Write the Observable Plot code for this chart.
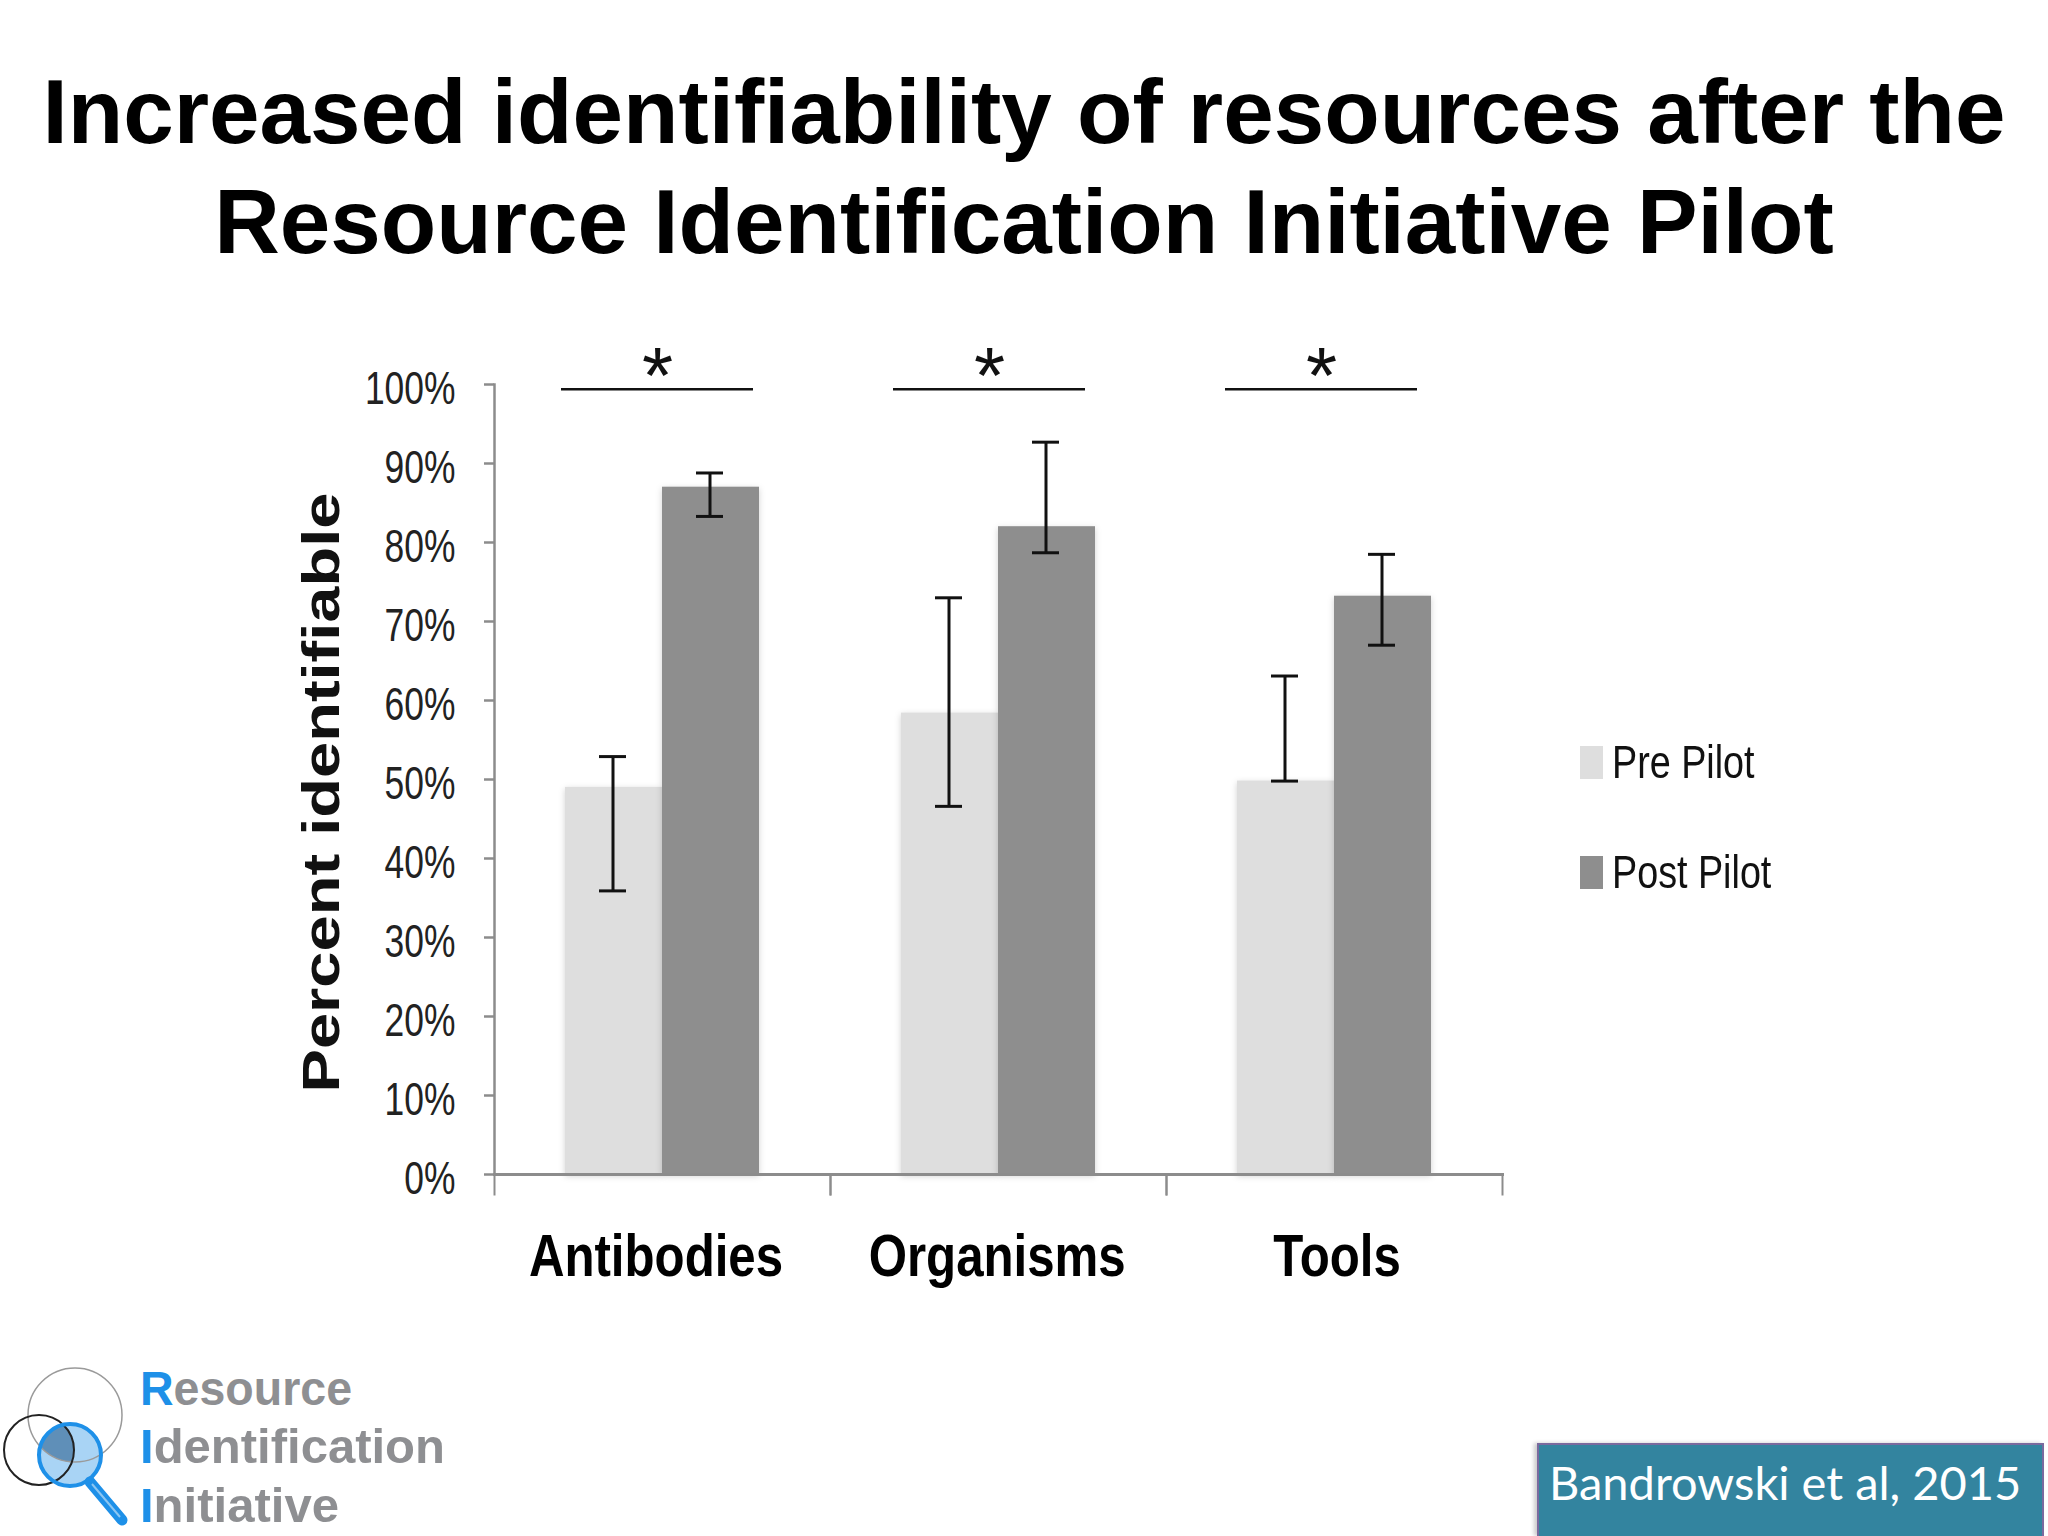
<!DOCTYPE html>
<html>
<head>
<meta charset="utf-8">
<script src="https://cdn.jsdelivr.net/npm/d3@7"></script>
<script src="https://cdn.jsdelivr.net/npm/@observablehq/plot@0.6"></script>
<style>
html,body{margin:0;padding:0;background:#fff;}
#page{position:relative;width:2048px;height:1536px;overflow:hidden;background:#fff;}
#title{position:absolute;left:0;top:57px;width:2048px;text-align:center;font:bold 90.8px/110px "Liberation Sans",Arial,sans-serif;color:#000;white-space:nowrap;}
#chart{position:absolute;left:0;top:300px;}
.legend-item{position:absolute;left:1580px;display:flex;align-items:center;font:46px "Liberation Sans",sans-serif;color:#111;white-space:nowrap;}
.legend-item i{display:inline-block;width:23px;height:33px;margin-right:9px;}
.legend-item span{display:inline-block;transform:scaleX(.82);transform-origin:left center;}
#logo{position:absolute;left:0;top:1340px;}
#cite{position:absolute;left:1537px;top:1443px;width:507px;height:93px;box-sizing:border-box;background:#33849f;border:2px solid #7a6a9e;border-bottom:none;color:#fff;font:47px Lato,sans-serif;padding:9px 0 0 10px;white-space:nowrap;box-shadow:-3px 0 4px #ccc;}
</style>
</head>
<body>
<div id="page">
  <div id="title">Increased identifiability of resources after the<br>Resource Identification Initiative Pilot</div>
  <div id="chart"></div>
  <div id="legend"></div>
  <svg id="logo" width="480" height="196" viewBox="0 1340 480 196" font-family="'Liberation Sans',Arial,sans-serif" font-weight="bold" font-size="49">
    <defs>
      <clipPath id="cg"><circle cx="75" cy="1415" r="47"/></clipPath>
      <clipPath id="cb"><circle cx="39" cy="1450" r="35"/></clipPath>
    </defs>
    <circle cx="70" cy="1455" r="31" fill="#a9d4f5"/>
    <g clip-path="url(#cg)"><g clip-path="url(#cb)"><circle cx="70" cy="1455" r="31" fill="#5f8fb8"/></g></g>
    <circle cx="75" cy="1415" r="47" fill="none" stroke="#9a9a9a" stroke-width="1.5"/>
    <circle cx="39" cy="1450" r="35" fill="none" stroke="#222" stroke-width="2"/>
    <circle cx="70" cy="1455" r="31" fill="none" stroke="#1e90e8" stroke-width="4"/>
    <line x1="90" y1="1482" x2="122" y2="1520" stroke="#1e90e8" stroke-width="11" stroke-linecap="round"/>
    <line x1="92" y1="1484" x2="120" y2="1517" stroke="#8cc6f2" stroke-width="2"/>
    <text x="140" y="1405" fill="#8e8f92" textLength="212" lengthAdjust="spacingAndGlyphs"><tspan fill="#1e90e8">R</tspan>esource</text>
    <text x="140" y="1463" fill="#8e8f92" textLength="305" lengthAdjust="spacingAndGlyphs"><tspan fill="#1e90e8">I</tspan>dentification</text>
    <text x="140" y="1522" fill="#8e8f92" textLength="199" lengthAdjust="spacingAndGlyphs"><tspan fill="#1e90e8">I</tspan>nitiative</text>
  </svg>
  <div id="cite">Bandrowski et al, 2015</div>
</div>
<script>
const categories = ["Antibodies", "Organisms", "Tools"];
const seriesNames = ["Pre Pilot", "Post Pilot"];
const seriesColors = ["#dedede", "#8e8e8e"];
const preValues = [49, 58.4, 49.8];
const preLow = [35.9, 46.6, 49.8];
const preHigh = [52.9, 73, 63.1];
const postValues = [87, 82, 73.2];
const postLow = [83.3, 78.7, 67];
const postHigh = [88.8, 92.7, 78.5];
const yTicks = [0, 10, 20, 30, 40, 50, 60, 70, 80, 90, 100];
const significanceLevel = 99.4;

const rows = categories.flatMap((c, i) => [
  {category: c, series: seriesNames[0], value: preValues[i], low: preLow[i], high: preHigh[i]},
  {category: c, series: seriesNames[1], value: postValues[i], low: postLow[i], high: postHigh[i]}
]);

const axisGrey = "#8c8c8c";
const labelNudge = [-6.5, -1.3, 2.6];
const plot = Plot.plot({
  width: 2048,
  height: 1034,
  marginLeft: 494,
  marginRight: 546,
  marginTop: 84,
  marginBottom: 160,
  style: {background: "transparent", overflow: "visible"},
  fx: {domain: categories, padding: 0, axis: null},
  x: {domain: seriesNames, paddingInner: 0, paddingOuter: 0.725, axis: null},
  y: {domain: [0, 100], axis: null},
  color: {domain: seriesNames, range: seriesColors},
  marks: [
    Plot.barY(rows, {fx: "category", x: "series", y: "value", fill: "series", className: "bars"}),
    Plot.frame({anchor: "bottom", stroke: axisGrey, strokeWidth: 3, facet: "super"}),
    Plot.frame({anchor: "left", stroke: axisGrey, strokeWidth: 2.5, facet: "super"}),
    Plot.frame({anchor: "left", stroke: axisGrey, strokeWidth: 2, insetTop: 790, insetBottom: -20, clip: false}),
    Plot.frame({anchor: "right", stroke: axisGrey, strokeWidth: 2, insetTop: 790, insetBottom: -20, clip: false}),
    Plot.axisY(yTicks, {anchor: "left", label: null, tickSize: 10, stroke: axisGrey, strokeWidth: 2.5, fill: "none"}),
    Plot.axisY(yTicks, {
      anchor: "left", label: null, tickSize: 0, tickPadding: 39, dy: 5, className: "ylabels",
      tickFormat: d => d + "%", fontSize: 46, fontFamily: "Liberation Sans", fill: "#222"
    }),
    ...categories.map((c, i) => Plot.axisFx({
      anchor: "bottom", ticks: [c], label: null, tickSize: 0, tickPadding: 59, dx: labelNudge[i], fontSize: 60,
      fontWeight: "bold", fontFamily: "Liberation Sans", fill: "#000", className: "xlabels"
    })),
    Plot.ruleX(rows, {fx: "category", x: "series", y1: "low", y2: "high", stroke: "#111", strokeWidth: 3, dx: -1}),
    Plot.tickY(rows, {fx: "category", x: "series", y: "high", stroke: "#111", strokeWidth: 3, insetLeft: 35, insetRight: 35, dx: -1}),
    Plot.tickY(rows, {fx: "category", x: "series", y: "low", stroke: "#111", strokeWidth: 3, insetLeft: 35, insetRight: 35, dx: -1}),
    ...categories.map((c, i) => Plot.ruleY([significanceLevel], {
      fx: () => c, stroke: "#111", strokeWidth: 2.5, insetLeft: 67 - 4 * i, insetRight: 77 + 4 * i
    })),
    ...categories.map((c, i) => Plot.text([c], {
      fx: d => d, frameAnchor: "top", text: () => "*", dx: -5 - 4 * i, dy: -38,
      fontSize: 80, fontFamily: "Liberation Sans", fill: "#111"
    })),
    Plot.text(["Percent identifiable"], {
      frameAnchor: "left", textAnchor: "middle", rotate: -90, dx: -172, dy: 13, fontSize: 52, fontWeight: "bold",
      fontFamily: "Liberation Sans", fill: "#111", facet: "super", className: "ytitle"
    })
  ]
});
document.getElementById("chart").appendChild(plot);

const squeeze = (selector, factor) => d3.select(plot).selectAll(selector + " text").each(function () {
  this.setAttribute("textLength", this.getComputedTextLength() * factor);
  this.setAttribute("lengthAdjust", "spacingAndGlyphs");
});
squeeze(".ylabels", 0.77);
squeeze(".xlabels", 0.82);
d3.select(plot).selectAll(".ytitle text").attr("textLength", 600).attr("lengthAdjust", "spacingAndGlyphs");
d3.select(plot).selectAll(".bars rect").style("filter", "drop-shadow(0 2px 3px rgba(0,0,0,.18))");

const legend = document.getElementById("legend");
seriesNames.forEach((name, i) => {
  const item = document.createElement("div");
  item.className = "legend-item";
  item.style.top = (735 + 110 * i) + "px";
  const sw = document.createElement("i");
  sw.style.background = seriesColors[i];
  item.appendChild(sw);
  const label = document.createElement("span");
  label.textContent = name;
  item.appendChild(label);
  legend.appendChild(item);
});
</script>
</body>
</html>
